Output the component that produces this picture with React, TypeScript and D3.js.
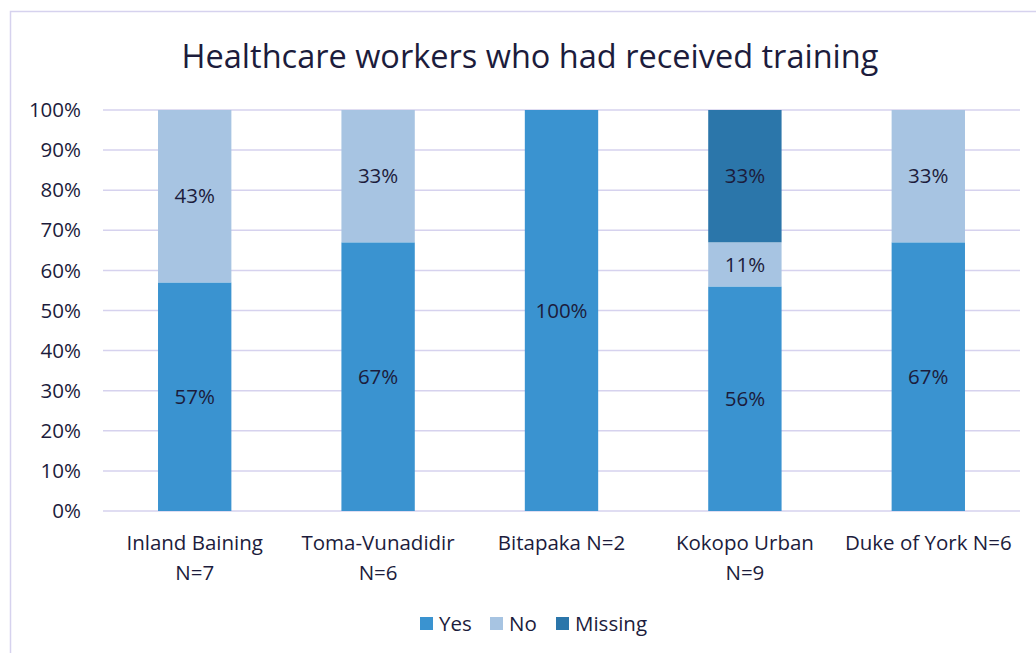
import React from 'react';
import * as d3 from 'd3';

// chart data
const categories = ['Inland Baining N=7', 'Toma-Vunadidir N=6', 'Bitapaka N=2', 'Kokopo Urban N=9', 'Duke of York N=6'];
const categoryLines = [['Inland Baining', 'N=7'], ['Toma-Vunadidir', 'N=6'], ['Bitapaka N=2'], ['Kokopo Urban', 'N=9'], ['Duke of York N=6']];
const seriesNames = ['Yes', 'No', 'Missing'];
const yesValues = [57, 67, 100, 56, 67];
const noValues = [43, 33, 0, 11, 33];
const missingValues = [0, 0, 0, 33, 0];
const yTicks = [0, 10, 20, 30, 40, 50, 60, 70, 80, 90, 100];

const colors = ['#3a93d0', '#a7c4e2', '#2b76aa'];
const textColor = '#1c1c3c';
const font = '"Open Sans", Lato, sans-serif';
const fs = 20.5;

function App() {
  const width = 1036;
  const height = 653;
  const margin = { top: 110, right: 16, bottom: 142, left: 103 };
  const plotW = width - margin.left - margin.right;
  const plotH = height - margin.top - margin.bottom;

  const x = d3.scaleBand().domain(categories).range([0, plotW]).paddingInner(0.6).paddingOuter(0.3);
  const y = d3.scaleLinear().domain([0, 100]).range([plotH, 0]);

  const rows = categories.map((c, i) => ({ cat: c, Yes: yesValues[i], No: noValues[i], Missing: missingValues[i] }));
  const stacked = d3.stack<any>().keys(seriesNames)(rows);

  // legend layout
  const legendItems = [
    { name: 'Yes', x: 420 },
    { name: 'No', x: 490 },
    { name: 'Missing', x: 556 },
  ];

  return (
    <svg width={width} height={height} style={{ display: 'block', position: 'absolute', left: 0, top: 0 }}>
      <rect x={10.5} y={11.5} width={width} height={height} fill="#fff" stroke="#d6d2ee" strokeWidth={1.5} />
      <text x={530} y={68} textAnchor="middle" fontFamily={font} fontSize={32.5} fill={textColor}>
        Healthcare workers who had received training
      </text>
      <g transform={`translate(${margin.left},${margin.top})`}>
        {yTicks.map(t => (
          <g key={t}>
            <line x1={0} x2={plotW} y1={y(t)} y2={y(t)} stroke="#d6d2ee" strokeWidth={1.5} />
            <text x={-22} y={y(t)} dy="0.35em" textAnchor="end" fontFamily={font} fontSize={fs} fill={textColor}>
              {t}%
            </text>
          </g>
        ))}
        {stacked.map((s, si) => (
          <g key={s.key} fill={colors[si]}>
            {s.map((d, i) => (
              d[1] - d[0] > 0 ? (
                <rect key={i} x={x(categories[i])} y={y(d[1])} width={x.bandwidth()} height={y(d[0]) - y(d[1])} />
              ) : null
            ))}
          </g>
        ))}
        {stacked.map((s) => (
          <g key={s.key + '-lab'}>
            {s.map((d, i) => (
              d[1] - d[0] > 0 ? (
                <text key={i} x={(x(categories[i]) as number) + x.bandwidth() / 2} y={y((d[0] + d[1]) / 2)} dy="0.35em"
                  textAnchor="middle" fontFamily={font} fontSize={fs} fill={textColor}>
                  {d[1] - d[0]}%
                </text>
              ) : null
            ))}
          </g>
        ))}
        {categoryLines.map((lines, i) => (
          <text key={i} x={(x(categories[i]) as number) + x.bandwidth() / 2} y={plotH + 39} textAnchor="middle"
            fontFamily={font} fontSize={fs} fill={textColor}>
            {lines.map((l, j) => (
              <tspan key={j} x={(x(categories[i]) as number) + x.bandwidth() / 2} dy={j === 0 ? 0 : 30}>{l}</tspan>
            ))}
          </text>
        ))}
      </g>
      <g>
        {legendItems.map((it, i) => (
          <g key={it.name}>
            <rect x={it.x} y={617} width={13} height={13} fill={colors[i]} />
            <text x={it.x + 19} y={631} fontFamily={font} fontSize={fs} fill={textColor}>{it.name}</text>
          </g>
        ))}
      </g>
    </svg>
  );
}

export default App;
